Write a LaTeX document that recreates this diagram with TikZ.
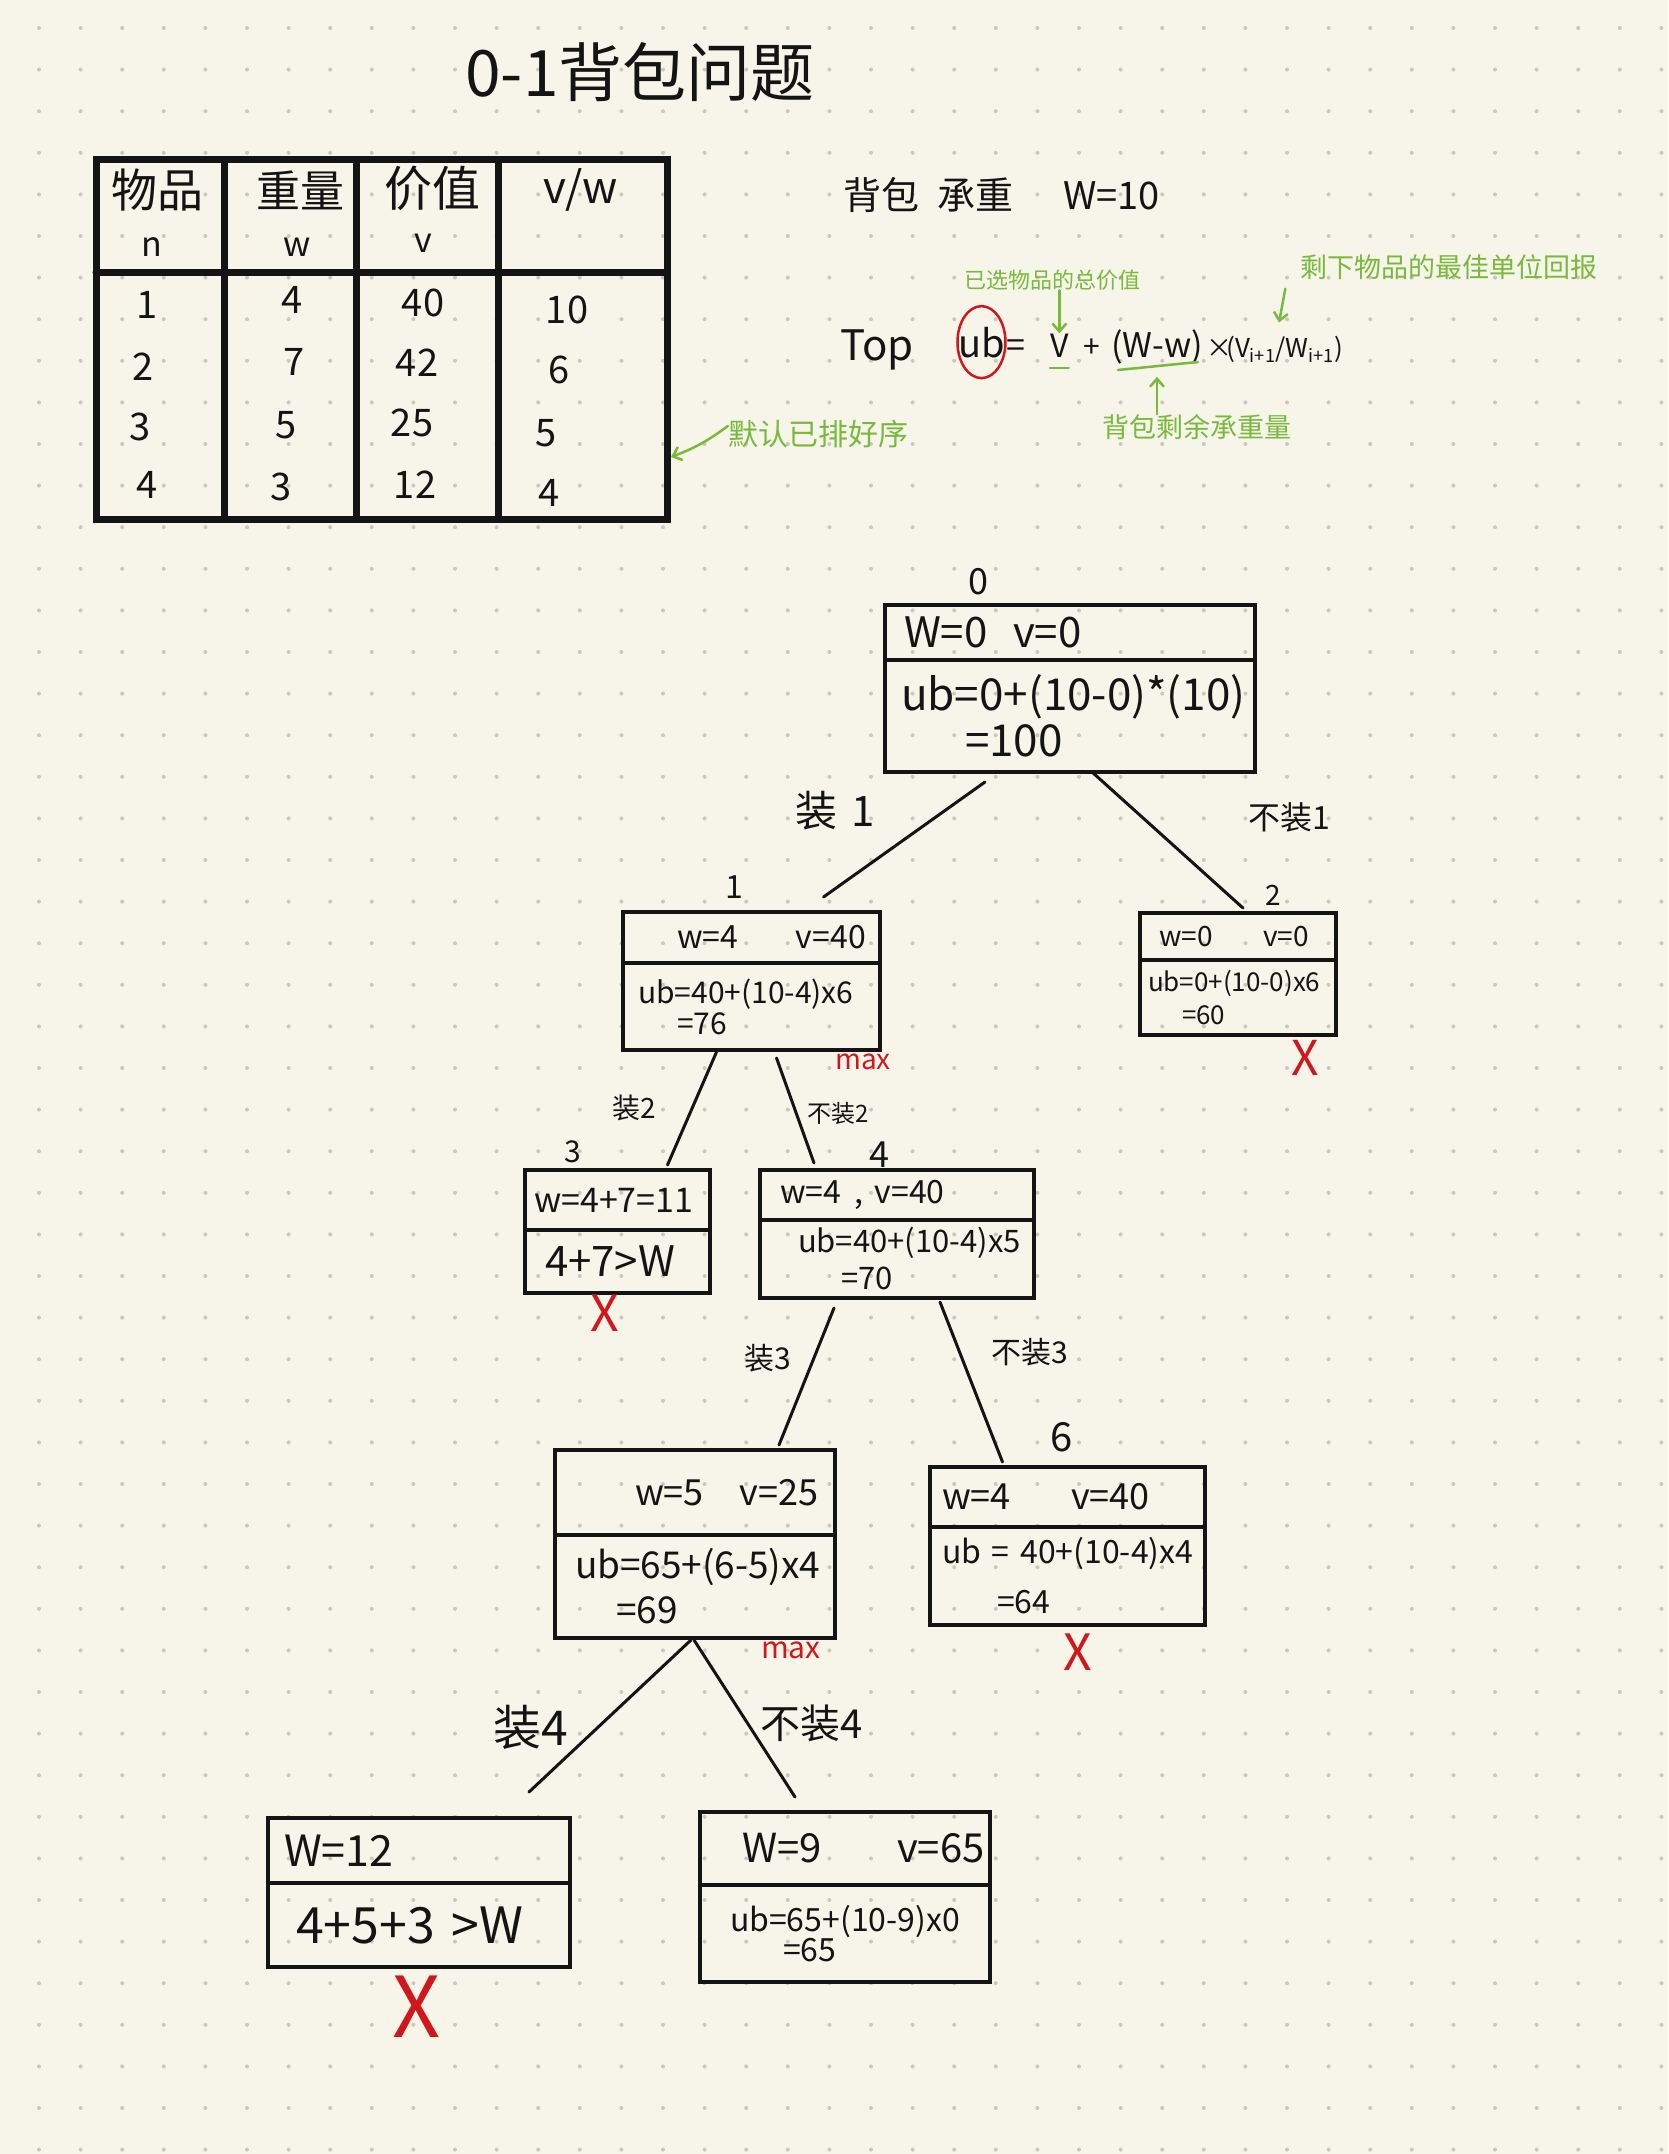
\documentclass[tikz,border=0pt]{standalone}
\usepackage{fontspec}
\setmainfont{Noto Sans CJK SC}
\usetikzlibrary{positioning}
\usetikzlibrary{arrows.meta}
\definecolor{paper}{RGB}{247,244,233}
\definecolor{dotgrey}{RGB}{202,199,190}
\definecolor{ink}{RGB}{20,20,20}
\definecolor{greenink}{RGB}{120,186,60}
\definecolor{redink}{RGB}{208,24,28}
\newcommand{\fsz}[2]{\fontsize{#1}{#2}\selectfont}

\begin{document}
\begin{tikzpicture}[x=1pt, y=-1pt,
		boxpart/.style={draw=ink, line width=3.5pt, inner sep=0pt, outer sep=0pt, align=left, text=ink},
		branch/.style={ink, line width=3pt, line cap=round},
		lbl/.style={text=ink, inner sep=0pt},
		fml/.style={text=ink, inner sep=0pt, anchor=base west},
		note/.style={text=greenink, inner sep=0pt},
		gar/.style={greenink, line width=2.5pt, line cap=round, -{Straight Barb[length=8pt,width=14pt]}},
		gline/.style={greenink, line width=2.5pt, line cap=round},
		cross/.style={text=redink, inner sep=0pt},
		tbl/.style={ink, line width=7pt, line cap=round},
		dotrow/.style={dotgrey, line width=4pt, line cap=round, dash pattern=on 0pt off 41.6pt}]
		
		\useasboundingbox (0,0) rectangle (1668,2154);
		\fill[paper] (0,0) rectangle (1668,2154);
		\foreach \x in {39,80.6,...,1668}
			\draw[dotrow] (\x,28) -- (\x,2154);
		
		\node[lbl, font=\fsz{64}{70}] (title) at (640,72) {0-1背包问题};
		
		\draw[tbl] (96,160) rectangle (667,519);
		\draw[tbl] (96,272) -- (667,272);
		\draw[tbl] (224,160) -- (224,519);
		\draw[tbl] (356,160) -- (356,519);
		\draw[tbl] (498,160) -- (498,519);
		
		\node[lbl, font=\fsz{46}{50}] (hn) at (157,190) {物品};
		\node[lbl, font=\fsz{44}{50}] (hw) at (300,190) {重量};
		\node[lbl, font=\fsz{48}{50}] (hv) at (432,188) {价值};
		\node[lbl, font=\fsz{44}{50}] (hr) at (581,190) {v/w};
		\node[lbl, font=\fsz{34}{40}] (hn2) at (152,247) {n};
		\node[lbl, font=\fsz{34}{40}] (hw2) at (297,247) {w};
		\node[lbl, font=\fsz{34}{40}] (hv2) at (423,243) {v};
		
		\node[lbl, font=\fsz{38}{40}] (i1) at (147,305) {1};
		\node[lbl, font=\fsz{38}{40}] (i2) at (143,367) {2};
		\node[lbl, font=\fsz{38}{40}] (i3) at (140,427) {3};
		\node[lbl, font=\fsz{38}{40}] (i4) at (147,485) {4};
		\node[lbl, font=\fsz{38}{40}] (w1) at (292,300) {4};
		\node[lbl, font=\fsz{38}{40}] (w2) at (294,362) {7};
		\node[lbl, font=\fsz{38}{40}] (w3) at (286,425) {5};
		\node[lbl, font=\fsz{38}{40}] (w4) at (281,487) {3};
		\node[lbl, font=\fsz{38}{40}] (v1) at (423,303) {40};
		\node[lbl, font=\fsz{38}{40}] (v2) at (417,363) {42};
		\node[lbl, font=\fsz{38}{40}] (v3) at (412,423) {25};
		\node[lbl, font=\fsz{38}{40}] (v4) at (415,485) {12};
		\node[lbl, font=\fsz{38}{40}] (r1) at (567,310) {10};
		\node[lbl, font=\fsz{38}{40}] (r2) at (559,370) {6};
		\node[lbl, font=\fsz{38}{40}] (r3) at (546,433) {5};
		\node[lbl, font=\fsz{38}{40}] (r4) at (549,493) {4};
		
		\node[note, font=\fsz{30}{34}] (sortnote) at (818,434) {默认已排好序};
		\coordinate (tblr) at (671,457);
		\draw[gar] ([yshift=8pt]sortnote.west) to[bend left=8] (tblr);
		
		\node[lbl, font=\fsz{38}{44}, anchor=west] (cap) at (843,195) {背包\hspace{18pt}承重\hspace{50pt}W=10};
		
		\node[fml, font=\fsz{42}{46}] (topw) at (840,360) {Top};
		\node[fml, font=\fsz{38}{44}] (ub) at (958,357) {ub};
		\node[fml, font=\fsz{34}{40}] (eq) at (1006,357) {=};
		\node[fml, font=\fsz{32}{40}] (fv) at (1050,357) {V};
		\node[fml, font=\fsz{30}{40}] (plus) at (1083,357) {+};
		\node[fml, font=\fsz{34}{40}] (fw) at (1111,357) {(W-w)};
		\node[fml, font=\fsz{26}{40}] (times) at (1206,357) {×};
		\node[fml, font=\fsz{26}{40}] (fr) at (1226,357) {(V\textsubscript{i+1}/W\textsubscript{i+1})};
		\draw[redink, line width=2.5pt] (ub.center) ellipse [x radius=24, y radius=36];
		
		\node[note, font=\fsz{22}{26}] (sel) at (1052,280) {已选物品的总价值};
		\node[note, font=\fsz{27}{30}] (rest) at (1449,267) {剩下物品的最佳单位回报};
		\node[note, font=\fsz{27}{30}] (remw) at (1197,427) {背包剩余承重量};
		\draw[gar] (sel.south -| fv.north) -- (fv.north);
		\draw[gar] ([xshift=-15pt,yshift=-9pt]rest.south west) -- ([xshift=53pt,yshift=13pt]fr.north west);
		\draw[gar] (remw.north -| fw.south) -- ([yshift=-13pt]fw.south);
		\draw[gline] ([yshift=-11pt]fv.base west) -- ([yshift=-11pt]fv.base east);
		\draw[gline] ([xshift=7pt,yshift=-13pt]fw.base west) -- ([xshift=-5pt,yshift=-5pt]fw.base east);
		
		\node[boxpart, text width=370pt, minimum height=55pt, font=\fsz{42}{46}] (n0t) at (1070,632.5) {\hspace*{19pt}\makebox[109pt][l]{W=0}v=0};
		\node[boxpart, text width=370pt, minimum height=112pt, font=\fsz{44}{46}, below=0pt of n0t] (n0b) {\hspace*{16pt}\mbox{ub=0+(10-0)*(10)}\\\hspace*{80pt}=100};
		
		\node[boxpart, text width=257pt, minimum height=51pt, font=\fsz{32}{36}] (n1t) at (751.5,937.5) {\hspace*{54pt}\makebox[119pt][l]{w=4}v=40};
		\node[boxpart, text width=257pt, minimum height=87pt, font=\fsz{30}{31}, below=0pt of n1t] (n1b) {\hspace*{15pt}\mbox{ub=40+(10-4)x6}\\\hspace*{54pt}=76};
		
		\node[boxpart, text width=196pt, minimum height=47pt, font=\fsz{28}{32}] (n2t) at (1238,936.5) {\hspace*{19pt}\makebox[104pt][l]{w=0}v=0};
		\node[boxpart, text width=196pt, minimum height=75pt, font=\fsz{26}{33}, below=0pt of n2t] (n2b) {\hspace*{8pt}\mbox{ub=0+(10-0)x6}\\\hspace*{42pt}=60};
		
		\node[boxpart, text width=185pt, minimum height=60pt, font=\fsz{34}{38}] (n3t) at (617.5,1200) {\hspace*{9pt}w=4+7=11};
		\node[boxpart, text width=185pt, minimum height=63pt, font=\fsz{42}{46}, below=0pt of n3t] (n3b) {\hspace*{20pt}4+7>W};
		
		\node[boxpart, text width=274pt, minimum height=50pt, font=\fsz{32}{36}] (n4t) at (897,1195) {\hspace*{20pt}\makebox[75pt][l]{w=4}, v=40};
		\node[boxpart, text width=274pt, minimum height=78pt, font=\fsz{31}{37}, below=0pt of n4t] (n4b) {\hspace*{38pt}\mbox{ub=40+(10-4)x5}\\\hspace*{81pt}=70};
		
		\node[boxpart, text width=280pt, minimum height=85pt, font=\fsz{36}{40}] (n5t) at (695,1492.5) {\hspace*{80pt}\makebox[105pt][l]{w=5}v=25};
		\node[boxpart, text width=280pt, minimum height=103pt, font=\fsz{37}{45}, below=0pt of n5t] (n5b) {\hspace*{20pt}\mbox{ub=65+(6-5)x4}\\\hspace*{61pt}=69};
		
		\node[boxpart, text width=275pt, minimum height=60pt, font=\fsz{36}{40}] (n6t) at (1067.5,1497) {\hspace*{12pt}\makebox[129pt][l]{w=4}v=40};
		\node[boxpart, text width=275pt, minimum height=98pt, font=\fsz{32}{50}, below=0pt of n6t] (n6b) {\hspace*{12pt}\mbox{ub = 40+(10-4)x4}\\\hspace*{67pt}=64};
		
		\node[boxpart, text width=302pt, minimum height=65pt, font=\fsz{43}{46}] (n7t) at (419,1850.5) {\hspace*{16pt}W=12};
		\node[boxpart, text width=302pt, minimum height=84pt, font=\fsz{50}{54}, below=0pt of n7t] (n7b) {\hspace*{28pt}4+5+3 >W};
		
		\node[boxpart, text width=290pt, minimum height=73pt, font=\fsz{40}{44}] (n8t) at (845,1848.5) {\hspace*{42pt}\makebox[155pt][l]{W=9}v=65};
		\node[boxpart, text width=290pt, minimum height=97pt, font=\fsz{32}{29}, below=0pt of n8t] (n8b) {\hspace*{30pt}\mbox{ub=65+(10-9)x0}\\\hspace*{83pt}=65};
		
		\node[lbl, font=\fsz{36}{40}] (k0) at (978,582) {0};
		\node[lbl, font=\fsz{32}{36}] (k1) at (734,887) {1};
		\node[lbl, font=\fsz{28}{32}] (k2) at (1273,895) {2};
		\node[lbl, font=\fsz{30}{34}] (k3) at (573,1152) {3};
		\node[lbl, font=\fsz{36}{40}] (k4) at (879,1155) {4};
		\node[lbl, font=\fsz{40}{44}] (k6) at (1062,1437) {6};
		
		\draw[branch] ([xshift=-85pt,yshift=-10pt]n0b.south) -- ([xshift=72pt,yshift=15pt]n1t.north);
		\draw[branch] ([xshift=22pt]n0b.south) -- ([xshift=5pt,yshift=5pt]n2t.north);
		\draw[branch] ([xshift=-35pt,yshift=-2pt]n1b.south) -- ([xshift=50pt,yshift=5pt]n3t.north);
		\draw[branch] ([xshift=25pt,yshift=-8pt]n1b.south) -- ([xshift=-83pt,yshift=7pt]n4t.north);
		\draw[branch] ([xshift=-63pt,yshift=-10pt]n4b.south) -- ([xshift=84pt,yshift=5pt]n5t.north);
		\draw[branch] ([xshift=43pt,yshift=-4pt]n4b.south) -- ([xshift=-65pt,yshift=5pt]n6t.north);
		\draw[branch] ([xshift=-4pt,yshift=-2pt]n5b.south) -- ([xshift=110pt,yshift=26pt]n7t.north);
		\draw[branch] ([xshift=-1pt,yshift=-2pt]n5b.south) -- ([xshift=-50pt,yshift=15pt]n8t.north);
		
		\node[lbl, font=\fsz{42}{46}] (b01) at (835,811) {装\hspace{14pt}1};
		\node[lbl, font=\fsz{32}{36}] (b02) at (1289,817) {不装1};
		\node[lbl, font=\fsz{28}{32}] (b13) at (634,1108) {装2};
		\node[lbl, font=\fsz{24}{28}] (b14) at (838,1113) {不装2};
		\node[lbl, font=\fsz{30}{34}] (b45) at (768,1358) {装3};
		\node[lbl, font=\fsz{30}{34}] (b46) at (1030,1352) {不装3};
		\node[lbl, font=\fsz{48}{52}] (b57) at (531,1727) {装4};
		\node[lbl, font=\fsz{40}{44}] (b58) at (812,1723) {不装4};
		
		\node[cross, font=\fsz{28}{32}] (max1) at (863,1062) {max};
		\node[cross, font=\fsz{30}{34}] (max2) at (791,1650) {max};
		\node[cross, font=\fsz{48}{52}] (x2) at (1305,1058) {X};
		\node[cross, font=\fsz{50}{54}] (x3) at (605,1313) {X};
		\node[cross, font=\fsz{50}{54}] (x6) at (1078,1652) {X};
		\node[cross, font=\fsz{84}{88}] (x7) at (417,2007) {X};
	\end{tikzpicture}
\end{document}
